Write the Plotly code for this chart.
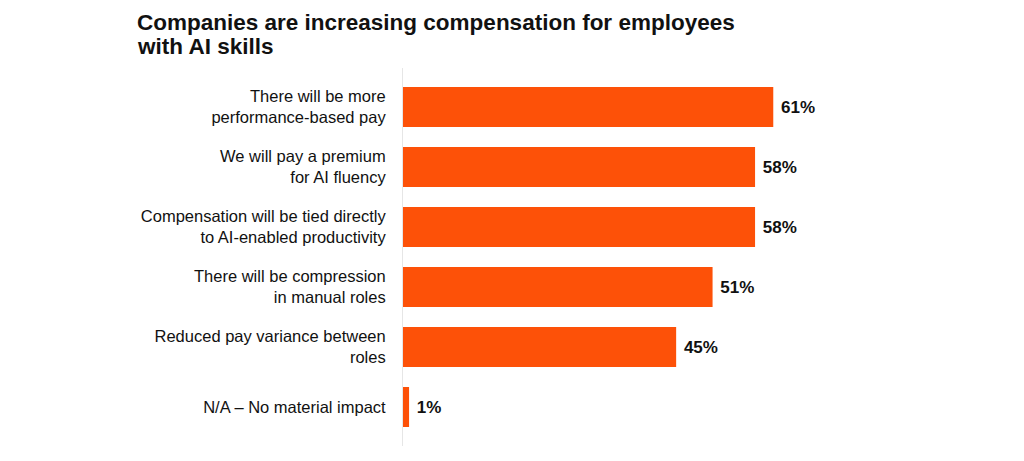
import plotly.graph_objects as go

categories = [
    "There will be more<br>performance-based pay",
    "We will pay a premium<br>for AI fluency",
    "Compensation will be tied directly<br>to AI-enabled productivity",
    "There will be compression<br>in manual roles",
    "Reduced pay variance between<br>roles",
    "N/A \u2013 No material impact",
]
values = [61, 58, 58, 51, 45, 1]
title_lines = ["Companies are increasing compensation for employees", "with AI skills"]

# page body has an 8px margin, so the figure is a bit smaller than the window
W, H = 1016, 453
L, T, PH = 395, 60, 378

fig = go.Figure(go.Bar(
    x=values,
    y=categories,
    orientation="h",
    marker=dict(color="#FD5108", line=dict(width=0)),
    texttemplate="\u00a0<b>%{x}%</b>",
    textposition="outside",
    textfont=dict(size=17, color="#111111", family="Liberation Sans"),
    cliponaxis=False,
    width=0.667,
))

fig.update_layout(
    width=W,
    height=H,
    margin=dict(l=L, r=14, t=T, b=H - T - PH),
    paper_bgcolor="white",
    plot_bgcolor="white",
    font=dict(family="Liberation Sans", color="#111111"),
    showlegend=False,
)

# title as two annotations to keep the tight line spacing
for line, ypx in zip(title_lines, [14.5, 38]):
    fig.add_annotation(
        text=f"<b>{line}</b>",
        xref="paper", yref="paper",
        x=(127 - L) / (W - L - 14), y=1 + (T - ypx) / PH,
        xanchor="left", yanchor="middle",
        showarrow=False,
        font=dict(size=22.5, color="#111111", family="Liberation Sans"),
    )

fig.update_xaxes(range=[0, 100], visible=False, fixedrange=True)
fig.update_yaxes(
    autorange=False,
    range=[5.65, -0.65],
    showline=True,
    linecolor="#e6e6e6",
    linewidth=1,
    ticks="",
    ticklabelstandoff=13,
    tickfont=dict(size=16.5, color="#111111"),
    showgrid=False,
)

fig.write_html("out.html")
